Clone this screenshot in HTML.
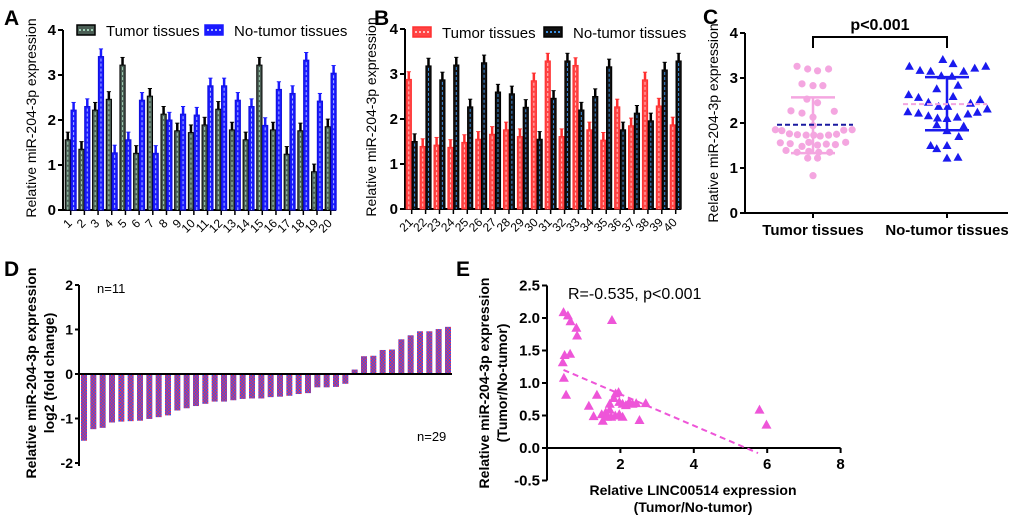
<!DOCTYPE html>
<html><head><meta charset="utf-8"><style>
body{margin:0;background:#fff;}
svg{display:block;font-family:"Liberation Sans",Arial,sans-serif;}
</style></head><body>
<svg id="s" width="1020" height="517" viewBox="0 0 1020 517">
<defs>
<pattern id="pd" width="3" height="3" patternUnits="userSpaceOnUse"><rect width="3" height="3" fill="#3355ee"/><rect width="1.5" height="1.5" fill="#ee3355"/><rect x="1.5" y="1.5" width="1.5" height="1.5" fill="#ee3355"/></pattern>
</defs>
<g font-weight="bold" font-size="21">
<text x="4" y="25">A</text>
<text x="374" y="25">B</text>
<text x="703" y="24">C</text>
<text x="4" y="276">D</text>
<text x="456" y="276">E</text>
</g>
</svg>
<script>
const aTumor=[1.56,1.35,2.22,2.46,3.22,1.26,2.53,2.13,1.76,1.72,1.89,2.24,1.78,1.56,3.22,1.78,1.24,1.76,0.85,1.85];
const aNormal=[2.22,2.3,3.41,1.27,1.56,2.44,1.26,2.0,2.13,2.11,2.76,2.76,2.44,2.3,1.88,2.68,2.59,3.33,2.42,3.04];
const aCats=["1","2","3","4","5","6","7","8","9","10","11","12","13","14","15","16","17","18","19","20"];
const bTumor=[2.88,1.39,1.42,1.37,1.48,1.55,1.66,1.76,1.61,2.85,3.29,1.61,3.19,1.76,1.53,2.27,1.85,2.87,2.29,1.87];
const bNormal=[1.5,3.18,2.87,3.2,2.27,3.25,2.6,2.56,2.26,1.55,2.46,3.29,2.2,2.5,3.16,1.76,2.13,1.96,3.09,3.29];
const bCats=["21","22","23","24","25","26","27","28","29","30","31","32","33","34","35","36","37","38","39","40"];
const yTicks4=[0,1,2,3,4];
const cTumor=[3.26,3.2,3.16,3.2,2.87,2.83,2.83,2.53,2.45,2.27,2.22,2.13,2.26,1.94,1.85,1.83,1.76,1.74,1.73,1.73,1.71,1.73,1.75,1.84,1.85,1.56,1.54,1.48,1.57,1.51,1.53,1.52,1.57,1.39,1.35,1.37,1.35,1.35,1.22,1.22,0.83];
const cTumorJit=[-0.42,-0.14,0.12,0.41,-0.29,0,0.26,-0.16,0.12,-0.58,-0.29,0,0.56,0,-0.99,-0.82,-0.62,-0.41,-0.18,0.02,0.19,0.41,0.62,0.81,1.03,-0.86,-0.6,-0.29,-0.11,0.12,0.35,0.59,0.86,-0.71,-0.42,-0.11,0.15,0.44,-0.14,0.12,0];
const cNormal=[3.26,3.17,3.15,3.41,3.32,3.15,3.22,3.26,3.05,3.04,2.76,2.84,2.63,2.57,2.46,2.59,2.52,2.25,2.22,2.37,2.37,2.44,2.24,2.31,2.16,2.11,2.13,2.2,1.96,2.1,1.83,1.93,1.5,1.43,1.5,1.7,1.22,1.24];
const cNormalJit=[-0.99,-0.71,-0.43,-0.11,0.16,0.44,0.73,1.02,-0.15,0.13,-0.27,0.29,-1.01,-0.75,-0.49,0.16,0.87,-1.03,-0.75,-0.22,0.02,0.62,0.8,1.06,-0.49,-0.25,0.27,0.55,-0.27,0,0,0.44,-0.43,-0.27,0,0.31,0,0.29];
const cMeans=[1.96,2.42];
const cSD=[[1.33,2.57],[1.84,3.02]];
const dVals=[-1.5,-1.24,-1.21,-1.09,-1.07,-1.06,-1.05,-1.01,-0.97,-0.93,-0.82,-0.77,-0.72,-0.67,-0.62,-0.62,-0.59,-0.56,-0.55,-0.55,-0.52,-0.51,-0.49,-0.45,-0.43,-0.3,-0.3,-0.29,-0.22,0.1,0.4,0.41,0.54,0.55,0.78,0.87,0.96,0.96,1.01,1.06];
const dTicks=[2,1,0,-1,-2];
const eX=[0.45,0.57,0.64,0.8,0.82,0.48,0.63,0.43,0.46,0.52,1.77,1.14,1.36,1.27,1.52,1.49,1.6,1.71,1.82,1.87,1.95,1.97,2.06,2.15,2.24,2.33,1.86,1.97,2.06,1.75,1.71,2.52,2.69,5.79,5.98,1.63,2.43];
const eY=[2.09,2.04,1.95,1.85,1.73,1.43,1.45,1.32,1.08,0.82,1.97,0.65,0.82,0.49,0.42,0.52,0.55,0.68,0.77,0.84,0.86,0.71,0.68,0.66,0.71,0.68,0.5,0.52,0.48,0.48,0.59,0.43,0.69,0.59,0.36,0.48,0.69];
const eYTicks=[2.5,2.0,1.5,1.0,0.5,0.0,-0.5];
const eXTicks=[2,4,6,8];
const eFit=[0.45,5.75];

const S=document.getElementById('s');
const NS='http://www.w3.org/2000/svg';
function el(t,a,p){const e=document.createElementNS(NS,t);for(const k in a)e.setAttribute(k,a[k]);(p||S).appendChild(e);return e;}
function txt(x,y,s,a){const e=el('text',Object.assign({x:x,y:y},a||{}));e.textContent=s;return e;}

function barPanel(ax,x0,x1,y0,tA,tN,cats,stA,stN,dashA,dashN,errA,errN,title,lab,tx){
  const g=el('g',{});
  
  
  const yS=v=>y0-v*45;
  const step=(x1-x0)/(cats.length-1);
  const bw=5.2;
  el('line',{x1:ax,y1:y0-180,x2:ax,y2:y0,stroke:'#000','stroke-width':2},g);
  el('line',{x1:ax,y1:y0,x2:x1+8,y2:y0,stroke:'#000','stroke-width':2},g);
  yTicks4.forEach(v=>{el('line',{x1:ax-5,y1:yS(v),x2:ax,y2:yS(v),stroke:'#000','stroke-width':2},g);
    const t=txt(ax-7,yS(v)+5,String(v),{'text-anchor':'end','font-size':15,'font-weight':'bold'});g.appendChild(t);});
  cats.forEach((c,i)=>{
    const cx=x0+i*step+2.7;
    el('line',{x1:cx,y1:y0,x2:cx,y2:y0+5,stroke:'#000','stroke-width':1.5},g);
    const t=txt(cx+2,y0+14,c,{'text-anchor':'end','font-size':12,transform:`rotate(-45 ${cx+2} ${y0+14})`});g.appendChild(t);
    [[tA[i],-2.9,stA,dashA,errA,'tumor'],[tN[i],2.9,stN,dashN,errN,'normal']].forEach(([v,dx,st,ds,ec,nm])=>{
      const bx=cx+dx-bw/2;
      el('line',{x1:bx+bw/2,y1:yS(v),x2:bx+bw/2,y2:yS(v+0.17),stroke:ec,'stroke-width':2.5},g);
      el('line',{x1:bx+0.5,y1:yS(v+0.17),x2:bx+bw-0.5,y2:yS(v+0.17),stroke:ec,'stroke-width':1},g);
      const r=el('rect',{x:bx,y:yS(v),width:bw,height:v*45,fill:st.fill,stroke:st.stroke,'stroke-width':1},g);
      
      
      el('line',{x1:bx+bw/2,y1:yS(v)+2,x2:bx+bw/2,y2:y0,stroke:ds,'stroke-width':1,'stroke-dasharray':'3 2'},g);
    });
  });
  const yl=txt(0,0,title,{'font-size':14,transform:`translate(${tx},${y0-92}) rotate(-90)`,'text-anchor':'middle'});
  
  
  g.appendChild(yl);
}
barPanel(63,68,328,210,aTumor,aNormal,aCats,{fill:'#4b5e55',stroke:'#000'},{fill:'#1a1aff',stroke:'#1010dd'},'#9fd0b5','#aab8ff','#000','#1a1aff','Relative  miR-204-3p expression','a',36);
barPanel(405,409,673,209,bTumor,bNormal,bCats,{fill:'#ff4444',stroke:'#ff3030'},{fill:'#111',stroke:'#000'},'#ffc0c0','#3a8ee0','#ff3030','#000','Relative miR-204-3p expression','b',376);
function leg(x,y,fill,stroke,dash,label,name){
  const g=el('g',{});
  
  
  el('rect',{x:x,y:y,width:18,height:10,fill:fill,stroke:stroke,'stroke-width':1.5},g);
  el('line',{x1:x+2,y1:y+5,x2:x+16,y2:y+5,stroke:dash,'stroke-width':2,'stroke-dasharray':'2 2'},g);
  g.appendChild(txt(x+29,y+11,label,{'font-size':15}));
}
leg(77,25,'#4b5e55','#000','#9fd0b5','Tumor tissues','legend-a-tumor');
leg(205,25,'#1a1aff','#1a1aff','#aab8ff','No-tumor tissues','legend-a-normal');
leg(413,27,'#ff4444','#ff3030','#ffc0c0','Tumor tissues','legend-b-tumor');
leg(544,27,'#111','#000','#3a8ee0','No-tumor tissues','legend-b-normal');

(function(){
  const g=el('g',{});
  
  
  const ax=745,y0=213,yS=v=>y0-v*45,gx=[813,947];
  el('line',{x1:ax,y1:33,x2:ax,y2:y0,stroke:'#000','stroke-width':2},g);
  el('line',{x1:ax,y1:y0,x2:1008,y2:y0,stroke:'#000','stroke-width':2},g);
  yTicks4.forEach(v=>{el('line',{x1:ax-5,y1:yS(v),x2:ax,y2:yS(v),stroke:'#000','stroke-width':2},g);
    g.appendChild(txt(ax-7,yS(v)+5,String(v),{'text-anchor':'end','font-size':15,'font-weight':'bold'}));});
  gx.forEach(x=>el('line',{x1:x,y1:y0,x2:x,y2:y0+5,stroke:'#000','stroke-width':2},g));
  g.appendChild(txt(gx[0],235,'Tumor tissues',{'text-anchor':'middle','font-size':15,'font-weight':'bold'}));
  g.appendChild(txt(gx[1],235,'No-tumor tissues',{'text-anchor':'middle','font-size':15,'font-weight':'bold'}));
  g.appendChild(txt(0,0,'Relative miR-204-3p expression',{'font-size':14,'text-anchor':'middle',transform:`translate(718,123) rotate(-90)`}));
  el('path',{d:`M${gx[0]} 48V37H${gx[1]}V48`,fill:'none',stroke:'#000','stroke-width':2},g);
  g.appendChild(txt(880,30,'p<0.001',{'text-anchor':'middle','font-size':16,'font-weight':'bold'}));
  cTumor.forEach((v,i)=>{const c=el('circle',{cx:gx[0]+cTumorJit[i]*38,cy:yS(v),r:3.6,fill:'#f4a6e0'},g);
    
    });
  cNormal.forEach((v,i)=>{const x=gx[1]+cNormalJit[i]*38,y=yS(v);const p=el('path',{d:`M${x} ${y-4.5}L${x+4.5} ${y+3.5}L${x-4.5} ${y+3.5}Z`,fill:'#1a1aee'},g);
    
    });
  [[0,'#f4a6e0'],[1,'#1a1aee']].forEach(([k,col])=>{
    const x=gx[k];el('line',{x1:x,y1:yS(cSD[k][0]),x2:x,y2:yS(cSD[k][1]),stroke:col,'stroke-width':2.5},g);
    cSD[k].forEach(v=>el('line',{x1:x-22,y1:yS(v),x2:x+22,y2:yS(v),stroke:col,'stroke-width':2.5},g));
  });
  el('line',{x1:777,y1:yS(cMeans[0]),x2:853,y2:yS(cMeans[0]),stroke:'#1a1aa0','stroke-width':2,'stroke-dasharray':'5 3'},g);
  el('line',{x1:903,y1:yS(cMeans[1]),x2:987,y2:yS(cMeans[1]),stroke:'#f4a6e0','stroke-width':2,'stroke-dasharray':'5 3'},g);
})();

(function(){
  const g=el('g',{});
  
  
  const ax=79,y0=374,yS=v=>y0-v*44.5,x0=84,step=(448-84)/(dVals.length-1);
  el('line',{x1:ax,y1:yS(2),x2:ax,y2:yS(-2)+3,stroke:'#000','stroke-width':2},g);
  dTicks.forEach(v=>{el('line',{x1:ax-4,y1:yS(v),x2:ax,y2:yS(v),stroke:'#000','stroke-width':2},g);
    g.appendChild(txt(ax-6,yS(v)+5,String(v),{'text-anchor':'end','font-size':14,'font-weight':'bold'}));});
  dVals.forEach((v,i)=>{const x=x0+i*step-3;const r=el('rect',{x:x,y:Math.min(yS(v),y0),width:6,height:Math.abs(v)*44.5,fill:'url(#pd)'},g);
    
    });
  el('line',{x1:ax,y1:y0,x2:452,y2:y0,stroke:'#000','stroke-width':2},g);
  g.appendChild(txt(97,293,'n=11',{'font-size':13}));
  g.appendChild(txt(417,441,'n=29',{'font-size':13}));
  g.appendChild(txt(0,0,'Relative  miR-204-3p expression',{'font-size':14,'font-weight':'bold','text-anchor':'middle',transform:'translate(36,373) rotate(-90)'}));
  g.appendChild(txt(0,0,'log2 (fold change)',{'font-size':14,'font-weight':'bold','text-anchor':'middle',transform:'translate(54,373) rotate(-90)'}));
})();

(function(){
  const g=el('g',{});
  
  
  const ax=547,y0=448,yS=v=>y0-v*65,xS=v=>547+v*36.7;
  el('line',{x1:ax,y1:yS(2.5),x2:ax,y2:yS(-0.5),stroke:'#000','stroke-width':2},g);
  el('line',{x1:ax,y1:y0,x2:xS(8),y2:y0,stroke:'#000','stroke-width':2},g);
  eYTicks.forEach(v=>{el('line',{x1:ax-5,y1:yS(v),x2:ax,y2:yS(v),stroke:'#000','stroke-width':2},g);
    g.appendChild(txt(ax-7,yS(v)+5,v.toFixed(1),{'text-anchor':'end','font-size':15,'font-weight':'bold'}));});
  eXTicks.forEach(v=>{el('line',{x1:xS(v),y1:y0,x2:xS(v),y2:y0+5,stroke:'#000','stroke-width':2},g);
    g.appendChild(txt(xS(v),y0+21,String(v),{'text-anchor':'middle','font-size':15,'font-weight':'bold'}));});
  eX.forEach((xv,i)=>{const x=xS(xv),y=yS(eY[i]);const p=el('path',{d:`M${x} ${y-5}L${x+5} ${y+4}L${x-5} ${y+4}Z`,fill:'#ee55d8'},g);
    
    });
  const f=v=>1.31-0.2415*v;
  el('line',{x1:xS(eFit[0]),y1:yS(f(eFit[0])),x2:xS(eFit[1]),y2:yS(f(eFit[1])),stroke:'#ee55d8','stroke-width':2,'stroke-dasharray':'6 4'},g);
  g.appendChild(txt(568,299,'R=-0.535, p<0.001',{'font-size':16}));
  g.appendChild(txt(0,0,'Relative miR-204-3p expression',{'font-size':14,'font-weight':'bold','text-anchor':'middle',transform:'translate(489,383) rotate(-90)'}));
  g.appendChild(txt(0,0,'(Tumor/No-tumor)',{'font-size':14,'font-weight':'bold','text-anchor':'middle',transform:'translate(507,383) rotate(-90)'}));
  g.appendChild(txt(693,495,'Relative LINC00514 expression',{'font-size':14,'font-weight':'bold','text-anchor':'middle'}));
  g.appendChild(txt(693,512,'(Tumor/No-tumor)',{'font-size':14,'font-weight':'bold','text-anchor':'middle'}));
})();
</script>
</body></html>
